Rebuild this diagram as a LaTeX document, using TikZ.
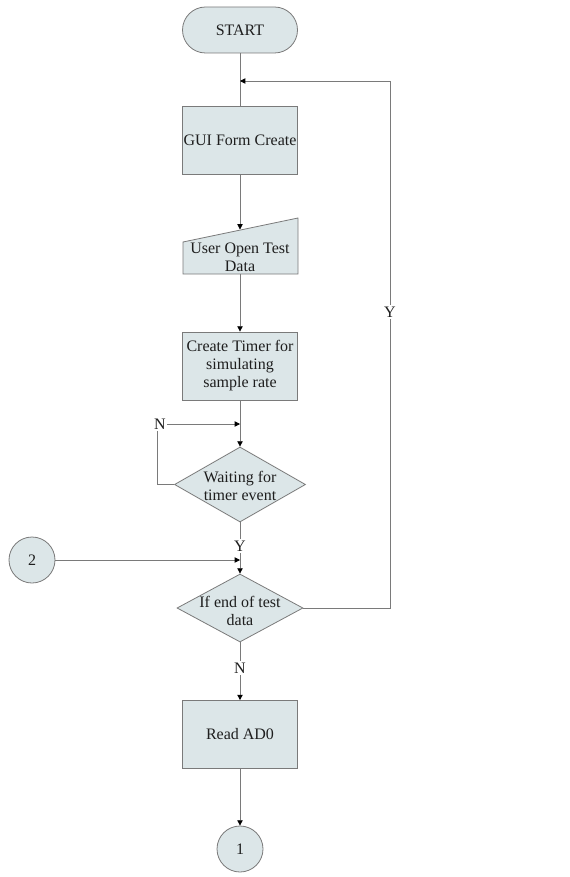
\documentclass[tikz,border=0pt]{standalone}
\usepackage{fontspec}
\setmainfont{Liberation Serif}
\usetikzlibrary{shapes.geometric,arrows.meta}
\definecolor{boxfill}{HTML}{DCE6E8}
\definecolor{edge}{HTML}{7A7A7A}
\definecolor{txt}{HTML}{1E1E1E}
\tikzset{
  base/.style={draw=edge, fill=boxfill, line width=0.6pt, text=txt, align=center, inner sep=1pt,
    font=\fontsize{12}{13.5}\selectfont},
  procbox/.style={base, rectangle, minimum width=86.25pt, minimum height=51pt},
  termbox/.style={base, rectangle, rounded corners=17.25pt, minimum width=86.25pt, minimum height=34.5pt},
  decbox/.style={base, diamond, inner sep=0pt, text width=0pt, text height=0pt, text depth=0pt},
  dectext/.style={text=txt, align=center, inner sep=0pt, font=\fontsize{12}{13.5}\selectfont},
  conn/.style={base, circle, minimum size=34.5pt},
  lbl/.style={text=txt, font=\fontsize{12}{13.5}\selectfont, inner sep=1pt, fill=white},
  flow/.style={draw=edge, line width=0.6pt, -{Triangle[length=4pt,width=4pt,color=black]}},
  plain/.style={draw=edge, line width=0.6pt},
}
\begin{document}
\begin{tikzpicture}[x=0.75pt,y=-0.75pt]
\useasboundingbox (0,0) rectangle (569,877);
% nodes
\node[termbox] (start) at (240,30) {START};
\node[procbox] (gui) at (240,140) {GUI Form Create};
\path[base] (183,242) -- (298,218) -- (298,274) -- (183,274) -- cycle;
\node[dectext] (user) at (240,257) {User Open Test\\Data};
\coordinate (usertop) at (240,229.5);
\coordinate (userbot) at (240,274);
\node[procbox] (timer) at (240,366) {Create Timer for\\simulating\\sample rate};
\node[decbox, minimum width=98.25pt, minimum height=56.25pt] (wait) at (240,484.5) {};
\node[dectext] (waittxt) at (240,486) {Waiting for\\timer event};
\node[decbox, minimum width=94.5pt, minimum height=51pt] (ifend) at (240,608) {};
\node[dectext] (ifendtxt) at (240,611) {If end of test\\data};
\node[procbox] (read) at (240,734.5) {Read AD0};
\node[conn] (c1) at (240,849) {1};
\node[conn] (c2) at (32,560) {2};
% junction coordinates
\coordinate (j1) at (240,81);
\coordinate (j2) at (240,424);
\coordinate (j3) at (240,560);
\coordinate (nl) at (157,424);
\coordinate (nb) at (157,484.5);
\coordinate (yr) at (390,608);
\coordinate (yt) at (390,81);
% connectors
\draw[plain] (start) -- (j1);
\draw[plain] (j1) -- (gui);
\draw[flow] (gui) -- (usertop);
\draw[flow] (userbot) -- (timer);
\draw[plain] (timer) -- (j2);
\draw[flow] (j2) -- (wait.north);
\draw[plain] (wait.west) -- (nb) -- (nl);
\draw[flow] (nl) -- (j2);
\node[lbl] (nlbl) at (160,424) {N};
\draw[plain] (wait.south) -- (j3);
\draw[flow] (j3) -- (ifend.north);
\node[lbl] (ylbl) at (240,546) {Y};
\draw[flow] (c2) -- (j3);
\draw[plain] (ifend.east) -- (yr) -- (yt);
\draw[flow] (yt) -- (j1);
\node[lbl] (ylbl2) at (390,312) {Y};
\draw[flow] (ifend.south) -- (read);
\node[lbl] (nlbl2) at (240,668) {N};
\draw[flow] (read) -- (c1);
\end{tikzpicture}
\end{document}
